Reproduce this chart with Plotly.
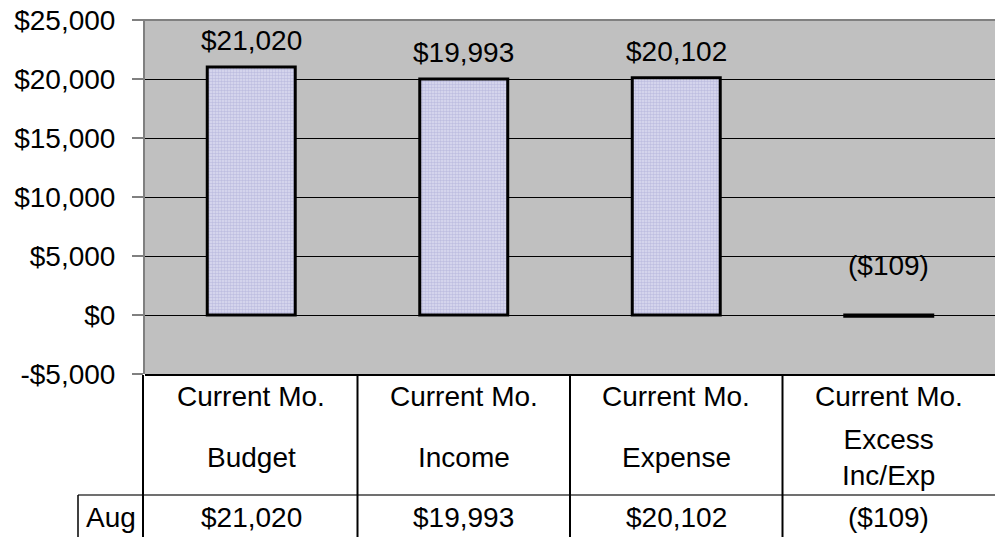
import plotly.graph_objects as go

categories = ["Budget", "Income", "Expense", "Excess Inc/Exp"]
header_line1 = ["Current Mo.", "Current Mo.", "Current Mo.", "Current Mo."]
header_line2 = ["Budget", "Income", "Expense", "Excess<br>Inc/Exp"]
values = [21020, 19993, 20102, -109]
value_labels = ["$21,020", "$19,993", "$20,102", "($109)"]
row_label = "Aug"
label_yshift = [9, 9, 9, 32]
tick_vals = [-5000, 0, 5000, 10000, 15000, 20000, 25000]
tick_text = ["-$5,000", "$0", "$5,000", "$10,000", "$15,000", "$20,000", "$25,000"]

W, H = 995, 537
ML, MR, MT, MB = 145, 0, 20, 163
PW, PH = W - ML - MR, H - MT - MB

def py(Y):
    return (MT + PH - Y) / PH

def px(X):
    return (X - ML) / PW

FONT = "Liberation Sans, Arial, sans-serif"
FS = 28

fig = go.Figure()
fig.add_trace(go.Bar(
    x=categories, y=values, width=0.414,
    marker=dict(
        color="#D4D4EC",
        line=dict(color="black", width=3),
        pattern=dict(shape=".", fgcolor="#A0A0D0", bgcolor="#DCDCF0", size=3, solidity=0.55, fillmode="overlay"),
    ),
    hoverinfo="skip", showlegend=False,
))

ann = []
for c, v, t, s in zip(categories, values, value_labels, label_yshift):
    ann.append(dict(x=c, y=max(v, 0), xref="x", yref="y", text=t, showarrow=False,
                    xanchor="center", yanchor="bottom", yshift=s,
                    font=dict(family=FONT, size=FS, color="black")))

for c, h1, h2 in zip(categories, header_line1, header_line2):
    ann.append(dict(x=c, y=py(397), xref="x", yref="paper", text=h1, showarrow=False,
                    xanchor="center", yanchor="middle", font=dict(family=FONT, size=FS, color="black")))
    ann.append(dict(x=c, y=py(457), xref="x", yref="paper", text=h2, showarrow=False,
                    xanchor="center", yanchor="middle", font=dict(family=FONT, size=FS, color="black")))

for c, t in zip(categories, value_labels):
    ann.append(dict(x=c, y=py(517), xref="x", yref="paper", text=t, showarrow=False,
                    xanchor="center", yanchor="middle", font=dict(family=FONT, size=FS, color="black")))
ann.append(dict(x=px(110.5), y=py(517), xref="paper", yref="paper", text=row_label, showarrow=False,
                xanchor="center", yanchor="middle", font=dict(family=FONT, size=FS, color="black")))

shapes = []
shapes.append(dict(type="line", xref="paper", yref="paper", x0=px(134), x1=1, y0=1, y1=1,
                   line=dict(color="#808080", width=2)))
shapes.append(dict(type="line", xref="paper", yref="paper", x0=0, x1=1, y0=py(375), y1=py(375),
                   line=dict(color="black", width=2)))
shapes.append(dict(type="line", xref="paper", yref="paper", x0=px(78), x1=1, y0=py(495), y1=py(495),
                   line=dict(color="#404040", width=1.5)))
shapes.append(dict(type="line", xref="paper", yref="paper", x0=px(78), x1=px(78), y0=py(495), y1=py(537),
                   line=dict(color="black", width=1.5)))
for i in range(len(categories)):
    xx = px(ML + PW * i / len(categories)) if i > 0 else px(143)
    shapes.append(dict(type="line", xref="paper", yref="paper", x0=xx, x1=xx, y0=py(375), y1=py(537),
                       line=dict(color="black", width=2)))

fig.update_layout(
    width=W, height=H,
    margin=dict(l=ML, r=MR, t=MT, b=MB),
    paper_bgcolor="white", plot_bgcolor="#C0C0C0",
    font=dict(family=FONT, size=FS, color="black"),
    xaxis=dict(showticklabels=False, ticks="", showgrid=False, zeroline=False, showline=False,
               range=[-0.5, 3.5]),
    yaxis=dict(range=[-5000, 25000], tickvals=tick_vals, ticktext=tick_text,
               ticks="outside", ticklen=11, tickwidth=2, tickcolor="#808080",
               showline=True, linecolor="#808080", linewidth=2,
               showgrid=True, gridcolor="black", gridwidth=1, zeroline=False,
               tickfont=dict(family=FONT, size=FS, color="black"), ticklabelstandoff=11),
    annotations=ann, shapes=shapes, bargap=0.5,
)

fig.write_html("out.html")
